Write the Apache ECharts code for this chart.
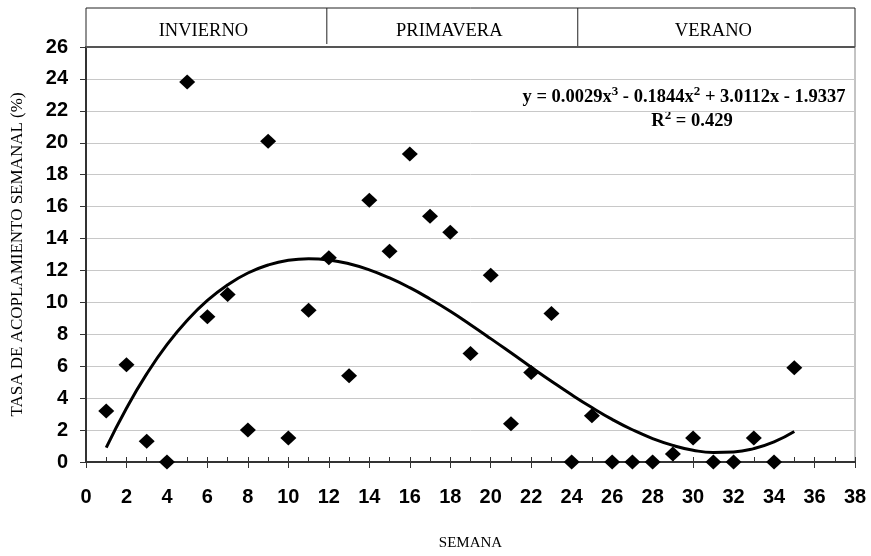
<!DOCTYPE html>
<html>
<head>
<meta charset="utf-8">
<script src="https://cdn.jsdelivr.net/npm/echarts@6/dist/echarts.min.js"></script>
<style>
html, body { margin: 0; padding: 0; background: #fff; }
#chart { width: 871px; height: 556px; }
</style>
</head>
<body>
<div id="chart"></div>
<script>
// semanas y tasa de acoplamiento (%)
var weeks = [1,2,3,4,5,6,7,8,9,10,11,12,13,14,15,16,17,18,19,20,21,22,23,24,25,26,27,28,29,30,31,32,33,34,35];
var rate  = [3.2,6.1,1.3,0,23.8,9.1,10.5,2.0,20.1,1.5,9.5,12.8,5.4,16.4,13.2,19.3,15.4,14.4,6.8,11.7,2.4,5.6,9.3,0,2.9,0,0,0,0.5,1.5,0,0,1.5,0,5.9];
// curva de tendencia
var trend = [0.9,3.37,5.52,7.35,8.87,10.12,11.10,11.84,12.34,12.64,12.74,12.66,12.42,12.04,11.53,10.92,10.21,9.44,8.60,7.73,6.84,5.94,5.06,4.21,3.41,2.67,2.02,1.47,1.04,0.74,0.60,0.63,0.84,1.26,1.91];
var seasons = ['INVIERNO','PRIMAVERA','VERANO'];
var seasonBounds = [0, 11.9, 24.3, 38];
var equation = 'y = 0.0029x{s|3} - 0.1844x{s|2} + 3.0112x - 1.9337';
var rsq = 'R{s|2} = 0.429';

var myChart = echarts.init(document.getElementById('chart'));

var gLeft = 86, gRight = 16, gTop = 47, gBottom = 94;
var W = 871, plotW = W - gLeft - gRight;
var serif = '"Liberation Serif", "Times New Roman", serif';

function xpix(v) { return gLeft + plotW * v / 38; }

var header = [];
header.push({
  type: 'rect', shape: { x: gLeft, y: 8, width: plotW, height: gTop - 8 },
  style: { fill: '#fff', stroke: '#222', lineWidth: 1 }
});
for (var i = 0; i < seasons.length; i++) {
  if (i > 0) {
    header.push({
      type: 'line', shape: { x1: xpix(seasonBounds[i]), y1: 8, x2: xpix(seasonBounds[i]), y2: i == 1 ? 44 : gTop },
      style: { stroke: '#222', lineWidth: 1 }
    });
  }
  header.push({
    type: 'text',
    x: (xpix(seasonBounds[i]) + xpix(seasonBounds[i + 1])) / 2 - 3, y: 31,
    style: { text: seasons[i], font: '18.5px ' + serif, fill: '#000', align: 'center', verticalAlign: 'middle' }
  });
}
header.push({
  type: 'line', shape: { x1: gLeft, y1: gTop, x2: W - gRight, y2: gTop },
  style: { stroke: '#555', lineWidth: 2 }, z: 10
});

var supStyle = { font: 'bold 13px ' + serif, verticalAlign: 'top', padding: [0, 0, 10, 0] };

var option = {
  animation: false,
  grid: {
    left: gLeft, right: gRight, top: gTop, bottom: gBottom,
    outerBoundsMode: 'none', containLabel: false,
    show: true, borderColor: '#888', borderWidth: 1
  },
  xAxis: [{
    type: 'value', min: 0, max: 38, interval: 2,
    name: 'SEMANA', nameLocation: 'middle', nameGap: 74,
    nameTextStyle: { fontFamily: serif, fontSize: 15, color: '#000' },
    axisLine: { show: true, onZero: false, lineStyle: { color: '#333', width: 2 } },
    axisTick: { show: true, length: 6, lineStyle: { color: '#333' } },
    axisLabel: { margin: 25, fontFamily: 'Liberation Sans', fontWeight: 'bold', fontSize: 20, color: '#000' },
    splitLine: { show: false }
  }, {
    type: 'value', min: 0, max: 38, interval: 1, position: 'bottom',
    axisLine: { show: false, onZero: false },
    axisTick: { show: true, inside: true, length: 5, lineStyle: { color: '#333' } },
    axisLabel: { show: false },
    splitLine: { show: false }
  }],
  yAxis: {
    type: 'value', min: 0, max: 26, interval: 2,
    name: 'TASA DE ACOPLAMIENTO SEMANAL (%)', nameLocation: 'middle', nameGap: 60,
    nameTextStyle: { fontFamily: serif, fontSize: 17, color: '#000' },
    axisLine: { show: true, lineStyle: { color: '#333', width: 2 } },
    axisTick: { show: true, length: 6, lineStyle: { color: '#333' } },
    axisLabel: { margin: 18, fontFamily: 'Liberation Sans', fontWeight: 'bold', fontSize: 20, color: '#000' },
    splitLine: { show: true, lineStyle: { color: '#c8c8c8', width: 1 } }
  },
  graphic: header.concat([
    {
      type: 'text', x: 684, y: 97,
      style: {
        text: equation, font: 'bold 18.5px ' + serif, fill: '#000', align: 'center', verticalAlign: 'middle',
        rich: { s: supStyle }
      }
    },
    {
      type: 'text', x: 692, y: 121,
      style: {
        text: rsq, font: 'bold 18.5px ' + serif, fill: '#000', align: 'center', verticalAlign: 'middle',
        rich: { s: supStyle }
      }
    }
  ]),
  series: [
    {
      type: 'line', data: weeks.map(function (w, i) { return [w, trend[i]]; }),
      smooth: true, showSymbol: false, symbol: 'none',
      lineStyle: { color: '#000', width: 3 }, z: 2
    },
    {
      type: 'scatter', data: weeks.map(function (w, i) { return [w, rate[i]]; }),
      symbol: 'diamond', symbolSize: [16, 15],
      itemStyle: { color: '#000', opacity: 1 }, z: 3
    }
  ]
};
myChart.setOption(option);
</script>
</body>
</html>
